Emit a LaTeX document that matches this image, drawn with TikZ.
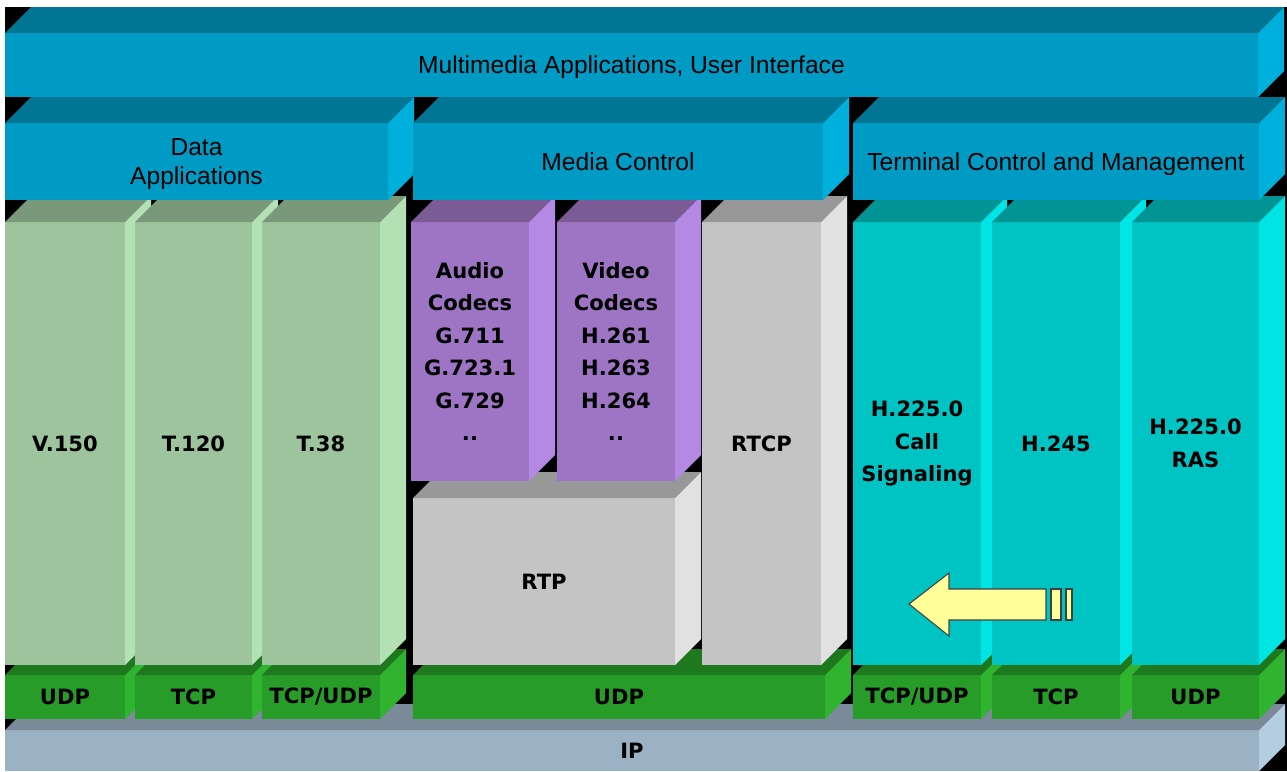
\documentclass[tikz,border=0pt]{standalone}
\usepackage{fontspec}
\setmainfont{Liberation Sans}
\newfontfamily\labelfont{DejaVu Sans}
\usetikzlibrary{positioning}

\definecolor{skyfront}{RGB}{0,155,196}
\definecolor{skytop}{RGB}{0,117,148}
\definecolor{skyside}{RGB}{0,176,220}
\definecolor{sagefront}{RGB}{157,196,157}
\definecolor{sagetop}{RGB}{122,152,122}
\definecolor{sageside}{RGB}{180,225,180}
\definecolor{grapefront}{RGB}{158,117,196}
\definecolor{grapetop}{RGB}{123,91,150}
\definecolor{grapeside}{RGB}{180,137,228}
\definecolor{ashfront}{RGB}{196,196,196}
\definecolor{ashtop}{RGB}{152,152,152}
\definecolor{ashside}{RGB}{225,225,225}
\definecolor{tealfront}{RGB}{0,196,196}
\definecolor{tealtop}{RGB}{0,148,148}
\definecolor{tealside}{RGB}{0,228,228}
\definecolor{grassfront}{RGB}{40,156,40}
\definecolor{grasstop}{RGB}{30,120,30}
\definecolor{grassside}{RGB}{48,180,48}
\definecolor{steelfront}{RGB}{155,178,196}
\definecolor{steeltop}{RGB}{122,138,152}
\definecolor{steelside}{RGB}{180,205,225}
\definecolor{pale}{RGB}{255,255,153}

\newcommand{\slabdepth}{26}
% front face is the node, top and side faces are filled next to it
\newcommand{\slab}[7][]{%
  \node[face, fill=#6front, minimum width=#4*0.02cm, minimum height=#5*0.02cm, #1] (#2) at (#3) {#7};
  \fill[#6top] (#2.north west) -- ++(\slabdepth,-\slabdepth) -- ([shift={(\slabdepth,-\slabdepth)}]#2.north east) -- (#2.north east) -- cycle;
  \fill[#6side] (#2.north east) -- ++(\slabdepth,-\slabdepth) -- ([shift={(\slabdepth,-\slabdepth)}]#2.south east) -- (#2.south east) -- cycle;
}

\begin{document}
\begin{tikzpicture}[x=0.02cm, y=-0.02cm,
  face/.style={anchor=north west, inner sep=0pt, outer sep=0pt, align=center, font=\labelfont\bfseries\fontsize{12}{18.5}\selectfont},
  head/.style={font=\fontsize{14}{16.5}\selectfont, text depth=0pt},
  arrowpen/.style={fill=pale, draw=black!75, line width=0.6pt}]
  \useasboundingbox (0,0) rectangle (1287,771);
  \fill[white] (0,0) rectangle (1287,771);
  \fill[black] (5,7) rectangle (1287,771);

  % IP at the bottom
  \slab{ip}{5,730}{1254}{41}{steel}{IP}

  % Transport
  \slab{udpA}{5,675}{120}{44}{grass}{UDP}
  \slab{tcpA}{135,675}{117}{44}{grass}{TCP}
  \slab{tcpudpA}{262,675}{118}{44}{grass}{TCP/UDP}
  \slab{udpM}{413,675}{412}{44}{grass}{UDP}
  \slab{tcpudpT}{853,675}{128}{44}{grass}{TCP/UDP}
  \slab{tcpT}{992,675}{128}{44}{grass}{TCP}
  \slab{udpT}{1132,675}{127}{44}{grass}{UDP}

  % Data columns
  \slab{v150}{5,222}{120}{443}{sage}{V.150}
  \slab{t120}{135,222}{117}{443}{sage}{T.120}
  \slab{t38}{262,222}{118}{443}{sage}{T.38}

  % Media columns
  \slab{rtp}{413,498}{262}{167}{ash}{RTP}
  \slab{audio}{411,222}{118}{259}{grape}{Audio\\Codecs\\G.711\\G.723.1\\G.729\\..}
  \slab{video}{557,222}{118}{259}{grape}{Video\\Codecs\\H.261\\H.263\\H.264\\..}
  \slab{rtcp}{702,222}{119}{443}{ash}{RTCP}

  % Terminal columns
  \slab{call}{853,222}{128}{443}{teal}{H.225.0\\Call\\Signaling}
  \slab{h245}{992,222}{128}{443}{teal}{H.245}
  \slab{ras}{1132,222}{127}{443}{teal}{H.225.0\\RAS}

  % Control row
  \slab[head]{data}{5,123}{383}{77}{sky}{Data\\Applications}
  \slab[head]{media}{413,123}{410}{77}{sky}{Media Control}
  \slab[head]{term}{853,123}{406}{77}{sky}{Terminal Control and Management}

  % Applications on top
  \slab[head]{apps}{5,33}{1253}{64}{sky}{Multimedia Applications, User Interface}

  % Yellow arrow
  \draw[arrowpen] (909,604) -- (949,573) -- (949,589) -- (1046,589) -- (1046,620) -- (949,620) -- (949,636) -- cycle;
  \draw[arrowpen] (1051,589) rectangle (1061,620);
  \draw[arrowpen] (1066,589) rectangle (1072,620);
\end{tikzpicture}
\end{document}
